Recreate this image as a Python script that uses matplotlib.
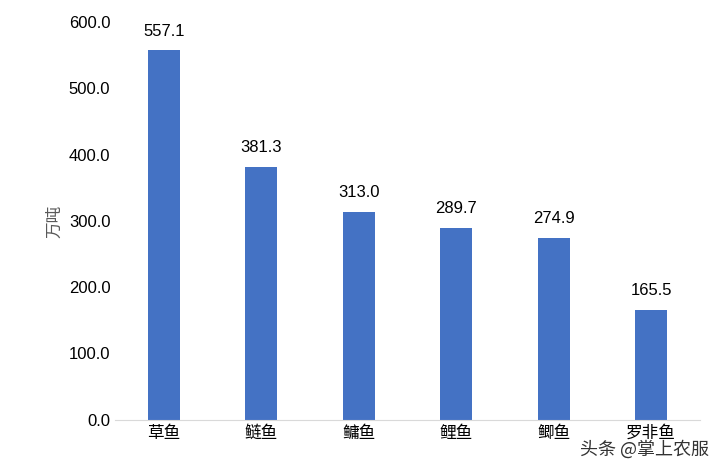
import matplotlib
matplotlib.use("Agg")
import matplotlib.pyplot as plt

categories = ["草鱼", "鲢鱼", "鳙鱼", "鲤鱼", "鲫鱼", "罗非鱼"]
values = [557.1, 381.3, 313.0, 289.7, 274.9, 165.5]
yticks = [0, 100, 200, 300, 400, 500, 600]

plt.rcParams['font.family'] = ['Liberation Sans', 'Noto Sans CJK SC', 'DejaVu Sans']

fig = plt.figure(figsize=(7.2, 4.68), dpi=100)
ax = fig.add_axes([0.16, 0.103, 0.812, 0.85])
x = range(len(categories))
ax.bar(x, values, width=0.33, color="#4472C4")
for i, v in zip(x, values):
    ax.text(i, v + 18, f"{v:.1f}", ha="center", va="bottom", fontsize=12)

ax.set_xlim(-0.5, len(categories) - 0.5)
ax.set_ylim(0, 600)
ax.set_yticks(yticks)
ax.set_yticklabels([f"{t:.1f}" for t in yticks], fontsize=12)
ax.set_xticks(list(x))
ax.set_xticklabels(categories, fontsize=12, family=['Noto Sans CJK SC'])
ax.set_ylabel("万吨", fontsize=12, family=['Noto Sans CJK SC'], color="#595959")
for s in ["top", "right", "left"]:
    ax.spines[s].set_visible(False)
ax.spines["bottom"].set_color("#D9D9D9")
ax.tick_params(length=0)

fig.text(0.985, 0.02, "头条 @掌上农服", ha="right", va="bottom", fontsize=13,
         family=['Noto Sans CJK SC'], color="#333333")

fig.savefig("out.png", dpi=100)
